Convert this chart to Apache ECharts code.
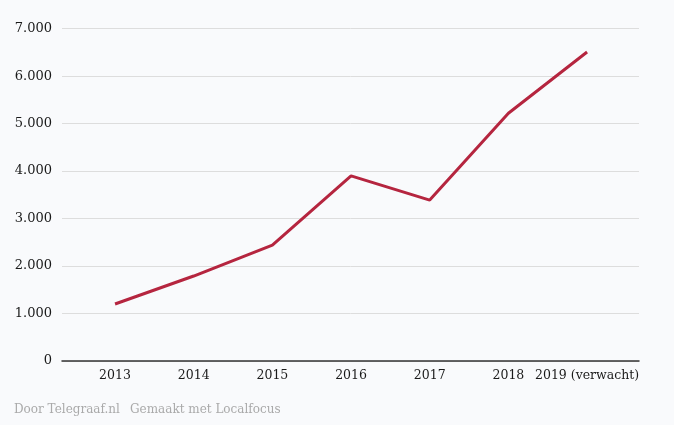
<!DOCTYPE html>
<html>
<head>
<meta charset="utf-8">
<script src="https://cdn.jsdelivr.net/npm/echarts@6/dist/echarts.min.js"></script>
<style>
html,body{margin:0;padding:0;background:#f9fafc;}
#c{width:674px;height:425px;}
</style>
</head>
<body>
<div id="c"></div>
<script>
var categories = ['2013', '2014', '2015', '2016', '2017', '2018', '2019 (verwacht)'];
var values = [1200, 1790, 2440, 3900, 3390, 5220, 6510];
var yTicks = [0, 1000, 2000, 3000, 4000, 5000, 6000, 7000];

var chart = echarts.init(document.getElementById('c'), null, {renderer: 'canvas'});
var font = '"DejaVu Serif", "Liberation Serif", serif';
var idx = categories.map(function (_, i) { return i; });
var data = values.map(function (v, i) { return [i, v]; });

chart.setOption({
  backgroundColor: '#f9fafc',
  animation: false,
  title: [
    {text: 'Door Telegraaf.nl', left: 9, top: 399, textStyle: {fontFamily: font, fontSize: 12, fontWeight: 'normal', color: '#aaaaaa'}},
    {text: 'Gemaakt met Localfocus', left: 125, top: 399, textStyle: {fontFamily: font, fontSize: 12, fontWeight: 'normal', color: '#aaaaaa'}}
  ],
  grid: {left: 62, right: 35, top: 28.7, bottom: 64, containLabel: false},
  xAxis: {
    type: 'value',
    min: -0.674,
    max: 6.66,
    axisLine: {show: true, lineStyle: {color: '#333', width: 1.5}},
    axisTick: {show: false},
    splitLine: {show: false},
    axisLabel: {
      customValues: idx,
      formatter: function (v) { return categories[Math.round(v)]; },
      color: '#1a1a1a', fontFamily: font, fontSize: 12.5, margin: 8
    }
  },
  yAxis: {
    type: 'value',
    min: 0, max: 7000, interval: 1000,
    axisLine: {show: false},
    axisTick: {show: false},
    splitLine: {show: true, lineStyle: {color: '#dddddd', width: 1}},
    axisLabel: {
      formatter: function (v) { return v === 0 ? '0' : (v / 1000) + '.000'; },
      color: '#1a1a1a', fontFamily: font, fontSize: 13, margin: 10
    }
  },
  series: [{
    type: 'line',
    data: data,
    symbol: 'none',
    lineStyle: {color: '#b5253f', width: 3},
    z: 5
  }]
});
</script>
</body>
</html>
